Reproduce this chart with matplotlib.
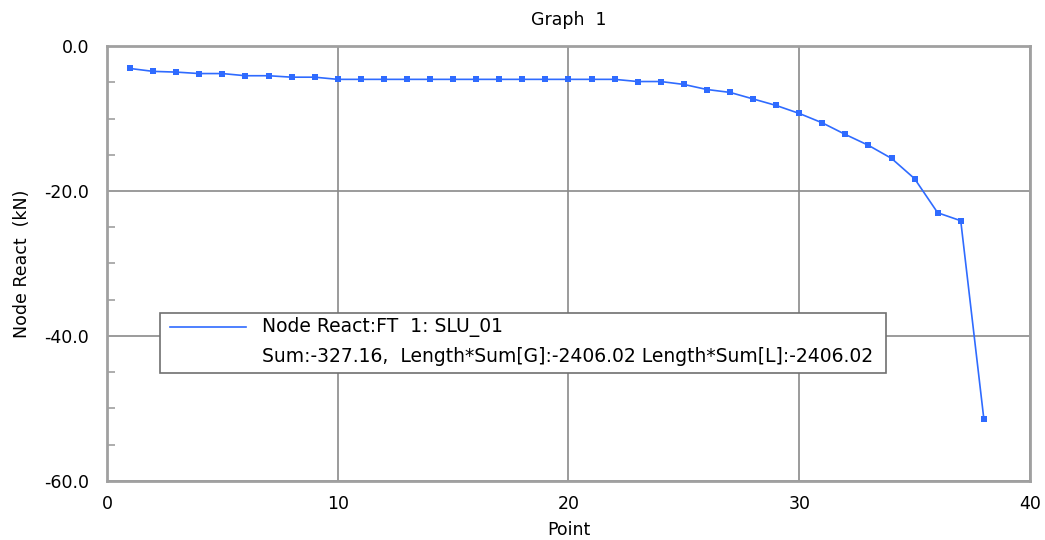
import matplotlib.pyplot as plt
from matplotlib.patches import Rectangle
from matplotlib.lines import Line2D
import numpy as np

plt.rcParams['font.family'] = ['DejaVu Sans']

# data
points = list(range(1, 39))
react = [-3.1, -3.5, -3.6, -3.8, -3.8, -4.1, -4.1, -4.3, -4.3, -4.6,
         -4.6, -4.6, -4.6, -4.6, -4.6, -4.6, -4.6, -4.6, -4.6, -4.6,
         -4.6, -4.6, -4.9, -4.9, -5.3, -6.0, -6.4, -7.3, -8.2, -9.3,
         -10.6, -12.2, -13.7, -15.5, -18.3, -23.0, -24.1, -51.4]

series_name = 'Node React:FT  1: SLU_01'
summary = 'Sum:-327.16,  Length*Sum[G]:-2406.02 Length*Sum[L]:-2406.02'

x_ticks = [0, 10, 20, 30, 40]
y_ticks = [0, -20, -40, -60]
y_minor = list(np.arange(-60, 1, 5))

blue = '#2f6bff'
gray = '#a0a0a0'
fs = 12.5

fig = plt.figure(figsize=(10.45, 5.4), dpi=100)
ax = fig.add_axes([0.1024, 0.1093, 0.8832, 0.8055])

ax.plot(points, react, color=blue, linewidth=1.2, marker='s', markersize=4,
        markerfacecolor=blue, markeredgewidth=0)

ax.set_xlim(0, 40)
ax.set_ylim(-60, 0)
ax.set_xticks(x_ticks)
ax.set_xticklabels([str(t) for t in x_ticks])
ax.set_yticks(y_ticks)
ax.set_yticklabels(['%.1f' % t for t in y_ticks])
ax.set_yticks(y_minor, minor=True)

ax.grid(True, which='major', color='#8a8a8a', linewidth=1.2)
ax.tick_params(axis='x', length=0, labelsize=fs, pad=10)
ax.tick_params(axis='y', which='major', length=0, labelsize=fs, pad=13)
ax.tick_params(axis='y', which='minor', direction='in', length=6, color=gray, width=1.2)
for s in ax.spines.values():
    s.set_color(gray)
    s.set_linewidth(2)

ax.set_xlabel('Point', fontsize=fs, labelpad=6)
ax.set_ylabel('Node React  (kN)', fontsize=fs, labelpad=9)
ax.set_title('Graph  1', fontsize=fs, pad=15)

# legend box drawn by hand
lx0, ly0 = 0.0574, 0.248
lw, lh = 0.787, 0.138
ax.add_patch(Rectangle((lx0, ly0), lw, lh, transform=ax.transAxes, facecolor='white',
                       edgecolor='#707070', linewidth=1.2, zorder=5))
ax.add_line(Line2D([lx0 + 0.011, lx0 + 0.093], [ly0 + lh * 0.76, ly0 + lh * 0.76],
                   transform=ax.transAxes, color=blue, linewidth=1.2, zorder=6))
ax.text(lx0 + 0.111, ly0 + lh * 0.76, series_name, transform=ax.transAxes,
        fontsize=13.5, va='center', ha='left', zorder=6)
ax.text(lx0 + 0.111, ly0 + lh * 0.27, summary, transform=ax.transAxes,
        fontsize=13.5, va='center', ha='left', zorder=6)

fig.savefig('out.png', dpi=100)
